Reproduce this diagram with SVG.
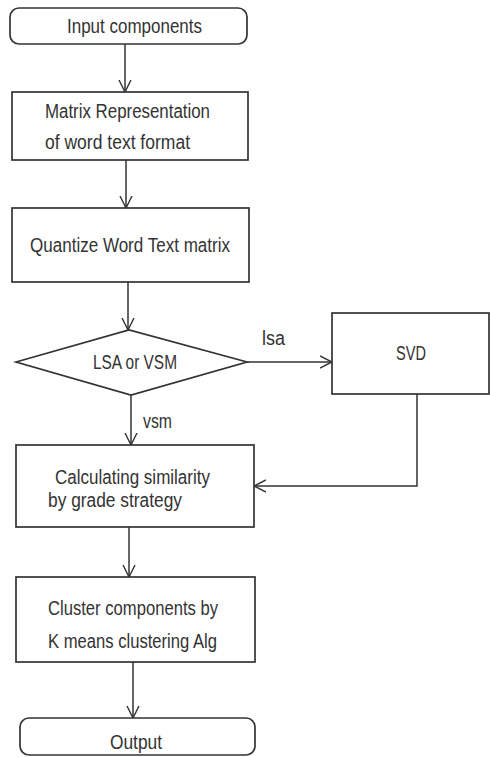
<svg xmlns="http://www.w3.org/2000/svg" width="490" height="757" viewBox="0 0 490 757">
<style>
.box{fill:#fff;stroke:#333;stroke-width:1.7}
.t{font-family:"Liberation Sans",Arial,sans-serif;font-size:20px;fill:#333}
.c{fill:none;stroke:#333;stroke-width:1.5}
</style>
<defs>
<marker id="arr" markerUnits="userSpaceOnUse" markerWidth="13" markerHeight="14" viewBox="0 0 13 14" refX="12" refY="7" orient="auto">
<path d="M0,1 L12,7 L0,13" fill="none" stroke="#333" stroke-width="1.4"/>
</marker>
</defs>
<rect width="490" height="757" fill="#fff"/>
<g id="connectors">
<path class="c" d="M125,44 V92" marker-end="url(#arr)"/>
<path class="c" d="M126,160 V208" marker-end="url(#arr)"/>
<path class="c" d="M128,282 V330" marker-end="url(#arr)"/>
<path class="c" d="M247,362 H332" marker-end="url(#arr)"/>
<path class="c" d="M131,395 V445" marker-end="url(#arr)"/>
<path class="c" d="M417,394 V486 H254" marker-end="url(#arr)"/>
<path class="c" d="M129,527 V577" marker-end="url(#arr)"/>
<path class="c" d="M133,662 V718" marker-end="url(#arr)"/>
<text class="t" x="262" y="345" textLength="23" lengthAdjust="spacingAndGlyphs">lsa</text>
<text class="t" x="143" y="428" textLength="29" lengthAdjust="spacingAndGlyphs">vsm</text>
</g>
<g id="input">
<rect class="box" x="10" y="8" width="237" height="36" rx="9"/>
<text class="t" x="67" y="33" textLength="135" lengthAdjust="spacingAndGlyphs">Input components</text>
</g>
<g id="matrix">
<rect class="box" x="12" y="92" width="236" height="68"/>
<text class="t" x="45" y="118" textLength="165" lengthAdjust="spacingAndGlyphs">Matrix Representation</text>
<text class="t" x="45" y="149" textLength="145" lengthAdjust="spacingAndGlyphs">of word text format</text>
</g>
<g id="quantize">
<rect class="box" x="12" y="208" width="237" height="74"/>
<text class="t" x="30" y="252" textLength="200" lengthAdjust="spacingAndGlyphs">Quantize Word Text matrix</text>
</g>
<g id="decision">
<polygon class="box" points="16,362 129,330 247,362 131,395"/>
<text class="t" x="93" y="369" textLength="84" lengthAdjust="spacingAndGlyphs">LSA or VSM</text>
</g>
<g id="svd">
<rect class="box" x="332" y="313" width="157" height="81"/>
<text class="t" x="396" y="360" textLength="30" lengthAdjust="spacingAndGlyphs">SVD</text>
</g>
<g id="similarity">
<rect class="box" x="16" y="445" width="238" height="82"/>
<text class="t" x="55" y="484" textLength="155" lengthAdjust="spacingAndGlyphs">Calculating similarity</text>
<text class="t" x="48" y="507" textLength="134" lengthAdjust="spacingAndGlyphs">by grade strategy</text>
</g>
<g id="cluster">
<rect class="box" x="16" y="577" width="239" height="85"/>
<text class="t" x="48" y="615" textLength="170" lengthAdjust="spacingAndGlyphs">Cluster components by</text>
<text class="t" x="48" y="648" textLength="169" lengthAdjust="spacingAndGlyphs">K means clustering Alg</text>
</g>
<g id="output">
<rect class="box" x="20" y="718" width="235" height="37" rx="9"/>
<text class="t" x="110" y="749" textLength="52" lengthAdjust="spacingAndGlyphs">Output</text>
</g>
</svg>
